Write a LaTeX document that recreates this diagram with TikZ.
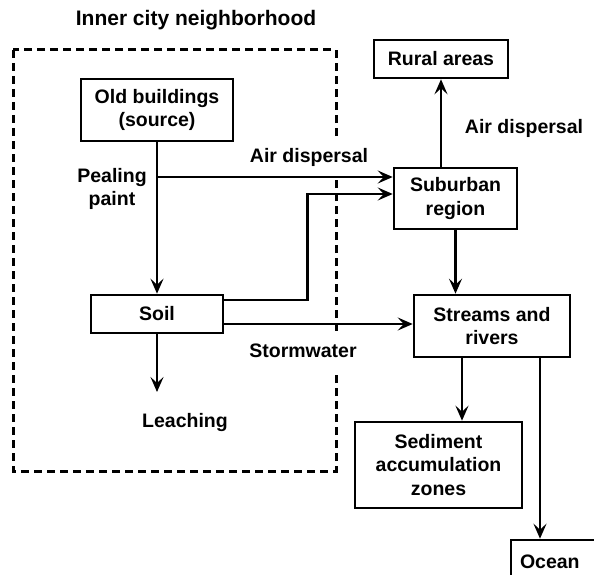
\documentclass[tikz,border=0pt]{standalone}
\usepackage{fontspec}
\setmainfont{Liberation Sans}
\usepackage{tikz}
\usetikzlibrary{arrows.meta}
\tikzset{every node/.style={font=\bfseries\fontsize{19.5}{23.5}\selectfont},
    box/.style={draw,line width=2.6pt,align=center,inner sep=0pt},
    lbl/.style={align=center,inner sep=0pt},
    whitelbl/.style={lbl,fill=white,minimum height=40pt,inner xsep=3pt},
    flow/.style={line width=2.4pt,-{Stealth[length=15pt,width=13pt,inset=6pt]}},
    region/.style={line width=3pt,dash pattern=on 8pt off 5pt},
    x=1pt,y=-1pt}

\begin{document}
\begin{tikzpicture}
\clip (0,0) rectangle (594,575);
\draw[region] (13,50) rectangle (336,471);
\node[lbl,font=\bfseries\fontsize{21}{25}\selectfont] (title) at (196,20) {Inner city neighborhood};
\node[box,minimum width=152pt,minimum height=62pt] (old) at (157,110) {Old buildings\\(source)};
\node[box,minimum width=134pt,minimum height=38pt] (rural) at (441,59) {Rural areas};
\node[box,minimum width=123pt,minimum height=61pt] (sub) at (455.5,198.5) {Suburban\\region};
\node[box,minimum width=132pt,minimum height=38pt] (soil) at (157,314) {Soil};
\node[box,minimum width=156pt,minimum height=62pt] (streams) at (492,326) {Streams and\\rivers};
\node[box,minimum width=167pt,minimum height=86pt] (sed) at (438.5,465) {Sediment\\accumulation\\zones};
\node[box,minimum width=90pt,minimum height=44pt,text width=72pt,align=left] (ocean) at (556,562) {Ocean};
% labels on the connectors
\node[lbl] (peal) at (112,189) {Pealing\\paint};
\node[whitelbl] (air) at (309,157) {Air dispersal};
\node[lbl] (airout) at (524,128) {Air dispersal};
\node[whitelbl] (storm) at (303,351) {Stormwater};
\node[lbl] (leach) at (185,422) {Leaching};
\coordinate (split) at (157,177);
\coordinate (leachend) at (157,392);
\draw[flow] (old.south) -- (soil.north);
\draw[flow] (split) -- (split -| sub.west);
\draw[flow] ([yshift=14pt]soil.east) -- ++(83,0) |- ([yshift=4.5pt]sub.west);
\draw[flow] ([yshift=-10pt]soil.east) -- ([yshift=-10pt]soil.east -| streams.west);
\draw[flow] (soil.south) -- (leachend);
\draw[flow] (rural.south |- sub.north) -- (rural.south);
\draw[flow] (sub.south) -- (sub.south |- streams.north);
\draw[flow] ([xshift=-30pt]streams.south) -- ([xshift=-30pt]streams.south |- sed.north);
\draw[flow] ([xshift=48pt]streams.south) -- ([xshift=48pt]streams.south |- ocean.north);
\end{tikzpicture}
\end{document}
